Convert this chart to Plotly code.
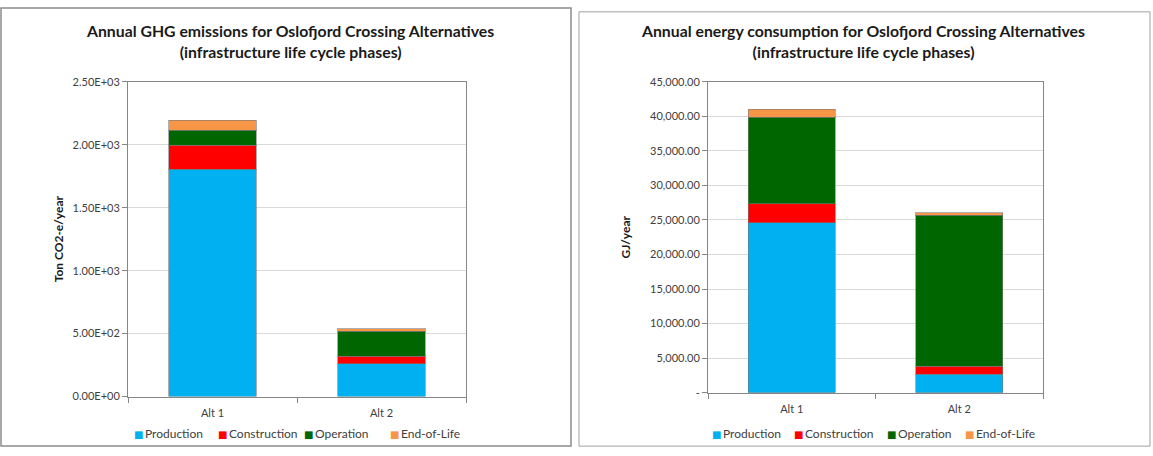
import plotly.graph_objects as go

# Alternatives compared
alternatives = ["Alt 1", "Alt 2"]
phases = ["Production", "Construction", "Operation", "End-of-Life"]
phase_colors = ["#00B0F0", "#FF0000", "#006600", "#F79646"]

# Annual GHG emissions (ton CO2-e/year) per life cycle phase
ghg_production = [1807, 260]
ghg_construction = [188, 60]
ghg_operation = [121, 200]
ghg_end_of_life = [77, 18]

# Annual energy consumption (GJ/year) per life cycle phase
energy_production = [24570, 2670]
energy_construction = [2810, 1180]
energy_operation = [12480, 21850]
energy_end_of_life = [1170, 320]

# Axis ticks
ghg_tickvals = [0, 500, 1000, 1500, 2000, 2500]
ghg_ticktext = ["0.00E+00", "5.00E+02", "1.00E+03", "1.50E+03", "2.00E+03", "2.50E+03"]
energy_tickvals = [0, 5000, 10000, 15000, 20000, 25000, 30000, 35000, 40000, 45000]
energy_ticktext = ["-", "5,000.00", "10,000.00", "15,000.00", "20,000.00",
                   "25,000.00", "30,000.00", "35,000.00", "40,000.00", "45,000.00"]

W, H = 1153, 456
FONT = "Lato"
TEXT = "#404040"
DARK = "#1a1a1a"

ghg_series = [ghg_production, ghg_construction, ghg_operation, ghg_end_of_life]
energy_series = [energy_production, energy_construction, energy_operation, energy_end_of_life]

fig = go.Figure()
for name, color, vals in zip(phases, phase_colors, ghg_series):
    fig.add_trace(go.Bar(x=alternatives, y=vals, name=name, marker_color=color,
                         marker_line=dict(color="rgba(120,120,120,0.6)", width=1),
                         xaxis="x", yaxis="y", showlegend=False))
for name, color, vals in zip(phases, phase_colors, energy_series):
    fig.add_trace(go.Bar(x=alternatives, y=vals, name=name, marker_color=color,
                         marker_line=dict(color="rgba(120,120,120,0.6)", width=1),
                         xaxis="x2", yaxis="y2", showlegend=False))


def px(x):
    return x / W


def py(y):
    return 1 - y / H


axis_common = dict(showline=True, linecolor="#868686", linewidth=1, mirror=True,
                   tickfont=dict(family=FONT, size=11, color=TEXT))

annotations = [
    dict(text="<b>Annual GHG emissions for Oslofjord Crossing Alternatives<br>(infrastructure life cycle phases)</b>",
         x=px(290), y=py(42), xref="paper", yref="paper", xanchor="center", yanchor="middle",
         showarrow=False, font=dict(family=FONT, size=15.8, color=DARK), align="center"),
    dict(text="<b>Annual energy consumption for Oslofjord Crossing Alternatives<br>(infrastructure life cycle phases)</b>",
         x=px(863), y=py(42), xref="paper", yref="paper", xanchor="center", yanchor="middle",
         showarrow=False, font=dict(family=FONT, size=15.8, color=DARK), align="center"),
]
# the title block renders a little low; shift it up to sit above the plot frame
for a in annotations:
    a["yshift"] = 7

# Legend rows under each chart: a coloured key square followed by the phase name
legend_rows = [
    [132, 216, 302, 388],
    [710, 792, 885, 963],
]
for starts in legend_rows:
    for name, color, x0 in zip(phases, phase_colors, starts):
        annotations.append(dict(
            text=f"<span style='color:{color};font-size:10px;font-family:DejaVu Sans'>■</span>&#8201;{name}",
            x=px(x0), y=py(439), xref="paper", yref="paper", xanchor="left", yanchor="middle",
            showarrow=False, font=dict(family=FONT, size=12, color=TEXT)))

fig.update_layout(
    width=W, height=H,
    margin=dict(l=0, r=0, t=0, b=0),
    paper_bgcolor="white", plot_bgcolor="white",
    barmode="stack", bargap=0.48,
    font=dict(family=FONT, color=TEXT),
    showlegend=False,
    xaxis=dict(domain=[px(128), px(466)], anchor="y", ticks="outside", ticklen=5,
               tickcolor="#868686", tickson="boundaries", ticklabelstandoff=6, **axis_common),
    yaxis=dict(domain=[py(401), py(77)], anchor="x", range=[0, 2500],
               tickvals=ghg_tickvals, ticktext=ghg_ticktext,
               ticks="outside", ticklen=5, tickcolor="#868686",
               showgrid=True, gridcolor="#D9D9D9", gridwidth=1,
               title=dict(text="<b>Ton CO2-e/year</b>", font=dict(family=FONT, size=12, color=DARK),
                          standoff=6),
               **axis_common),
    xaxis2=dict(domain=[px(708), px(1043)], anchor="y2", ticks="outside", ticklen=5,
                tickcolor="#868686", tickson="boundaries", ticklabelstandoff=6, **axis_common),
    yaxis2=dict(domain=[py(397), py(77)], anchor="x2", range=[0, 45000],
                tickvals=energy_tickvals, ticktext=energy_ticktext,
                ticks="outside", ticklen=5, tickcolor="#868686",
                showgrid=True, gridcolor="#D9D9D9", gridwidth=1,
                title=dict(text="<b>GJ/year</b>", font=dict(family=FONT, size=12, color=DARK),
                           standoff=16),
                **axis_common),
    annotations=annotations,
    shapes=[
        dict(type="rect", xref="paper", yref="paper", x0=px(1), x1=px(571), y0=py(452), y1=py(1),
             line=dict(color="#8c8c8c", width=1.5)),
        dict(type="rect", xref="paper", yref="paper", x0=px(579), x1=px(1150), y0=py(452), y1=py(5),
             line=dict(color="#a0a0a0", width=1)),
    ],
)

fig.write_html("out.html")
